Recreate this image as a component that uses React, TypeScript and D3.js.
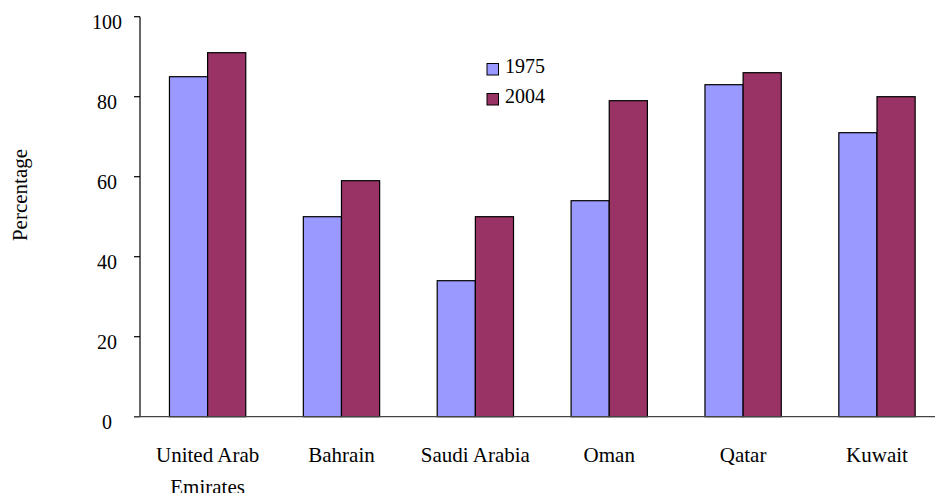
import * as d3 from 'd3';

const categories = ['United Arab Emirates', 'Bahrain', 'Saudi Arabia', 'Oman', 'Qatar', 'Kuwait'];
const categoryLines = [['United Arab', 'Emirates'], ['Bahrain'], ['Saudi Arabia'], ['Oman'], ['Qatar'], ['Kuwait']];
const seriesNames = ['1975', '2004'];
const values1975 = [85, 50, 34, 54, 83, 71];
const values2004 = [91, 59, 50, 79, 86, 80];
const yTicks = [0, 20, 40, 60, 80, 100];
const colors = ['#9999FF', '#993366'];

const W = 935;
const H = 493;
const X0 = 140;
const Y0 = 416.7;
const YTOP = 16.7;
const FONT = "'Liberation Serif', 'Times New Roman', Times, serif";
const FS = 20;
const FS_WORD = 21;

export default function App() {
  const y = d3.scaleLinear().domain([0, 100]).range([Y0, YTOP]);
  const x = d3.scaleBand<string>()
    .domain(categories)
    .range([X0, X0 + 6 * 134.1])
    .paddingInner(0.43)
    .paddingOuter(0.22);
  const xs = d3.scaleBand<string>()
    .domain(seriesNames)
    .range([0, x.bandwidth()]);

  const series = [values1975, values2004];
  const txt = { fontFamily: FONT, fontSize: FS };
  const word = { fontFamily: FONT, fontSize: FS_WORD };

  return (
    <svg
      width={W}
      height={H}
      style={{ position: 'absolute', left: 0, top: 0, background: '#fff' }}
    >
      {/* bars */}
      {categories.map((c, i) => (
        <g key={c} transform={`translate(${x(c)},0)`}>
          {series.map((vals, s) => (
            <rect
              key={s}
              x={xs(seriesNames[s])}
              y={y(vals[i])}
              width={xs.bandwidth()}
              height={Y0 - y(vals[i])}
              fill={colors[s]}
              stroke="#000"
              strokeWidth={1.2}
            />
          ))}
        </g>
      ))}

      {/* y axis */}
      <line x1={X0} x2={X0} y1={YTOP} y2={Y0} stroke="#000" strokeWidth={1.2} />
      {yTicks.map(t => (
        <g key={t}>
          <line x1={X0 - 6} x2={X0} y1={y(t)} y2={y(t)} stroke="#000" strokeWidth={1.2} />
          <text x={107} y={y(t) + 12.5} textAnchor="middle" style={txt} fill="#000">
            {t}
          </text>
        </g>
      ))}

      {/* x axis */}
      <line x1={X0 - 6} x2={W} y1={Y0} y2={Y0} stroke="#444" strokeWidth={1.2} />
      {categories.map((c, i) => (
        <text
          key={c}
          x={(x(c) ?? 0) + x.bandwidth() / 2}
          y={462}
          textAnchor="middle"
          style={word}
          fill="#000"
        >
          {categoryLines[i].map((line, k) => (
            <tspan key={k} x={(x(c) ?? 0) + x.bandwidth() / 2} dy={k === 0 ? 0 : 32}>
              {line}
            </tspan>
          ))}
        </text>
      ))}

      {/* y label */}
      <text
        transform="translate(27,195) rotate(-90)"
        textAnchor="middle"
        style={word}
        fill="#000"
      >
        Percentage
      </text>

      {/* legend */}
      {seriesNames.map((s, i) => (
        <g key={s} transform={`translate(487,${63.5 + i * 30})`}>
          <rect width={11.5} height={11.5} fill={colors[i]} stroke="#000" strokeWidth={1} />
          <text x={18} y={9.5} style={txt} fill="#000">{s}</text>
        </g>
      ))}
    </svg>
  );
}
